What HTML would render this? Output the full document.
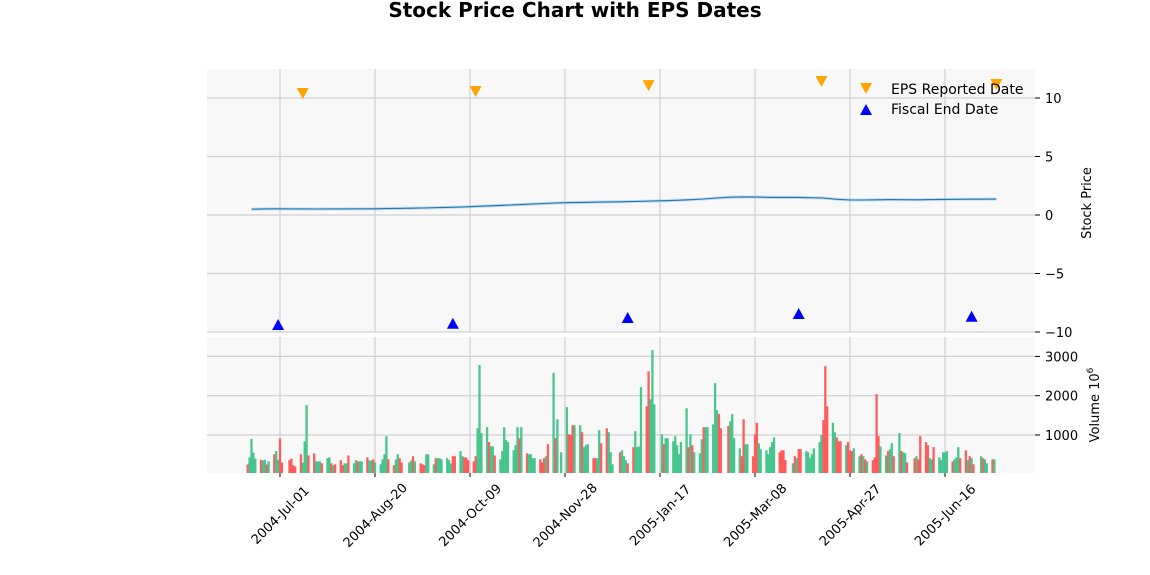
<!DOCTYPE html>
<html><head><meta charset="utf-8"><style>
html,body{margin:0;padding:0;background:#fff;}
svg{display:block;font-family:"DejaVu Sans","Liberation Sans",sans-serif;}
</style></head><body>
<svg id="chart" width="1150" height="575">
<text x="575" y="17" text-anchor="middle" font-size="20" font-weight="bold">Stock Price Chart with EPS Dates</text>
<rect x="207" y="69" width="828" height="263" fill="#f8f8f8"/>
<rect x="207" y="337" width="828" height="136" fill="#f8f8f8"/>
<g id="grid"></g><g id="vol"></g><g id="price"></g><g id="marks"></g><g id="axes"></g>
<g>
<polygon points="860,83 872,83 866,94" fill="orange"/>
<text x="891" y="94" font-size="14">EPS Reported Date</text>
<polygon points="860,115 872,115 866,104" fill="blue"/>
<text x="891" y="114" font-size="14">Fiscal End Date</text>
</g>
<text transform="translate(1091,203) rotate(-90)" text-anchor="middle" font-size="13">Stock Price</text>
<text transform="translate(1099,405) rotate(-90)" text-anchor="middle" font-size="13">Volume  10<tspan dy="-6" font-size="9">6</tspan></text>
</svg>
<script>
const startDate="2004-06-14";
const holidays=["2004-07-05","2004-09-06","2004-11-25","2004-12-24","2005-01-17","2005-02-21","2005-03-25","2005-05-30","2005-07-04"];
const volumes=[250,430,900,550,400, 370,350,370,250,330, 510,590,370,910,300, 360,400,230,200,
510,300,840,1760,480, 535,330,330,330,280, 410,430,280,230,255, 360,230,280,280,480, 280,360,330,330,330,
430,350,350,380,300, 255,380,510,970,380, 230,380,510,410,300, 300,350,460,330, 280,255,230,510,510,
255,410,410,410,380, 410,360,280,460,460, 590,460,430,430,360, 330,460,1170,2780,1050, 1200,820,710,710,480,
380,590,1200,870,820, 610,740,1200,920,1200, 535,510,510,410,410, 380,300,410,460,765, 2580,920,1400,560,
1710,1020,1000,1250,1250, 1250,1070,690,740,765, 410,410,410,1120,790, 1170,1070,560,255, 560,610,460,360,280,
690,1100,690,710,2220, 1730,2620,1910,3160,1780, 1020,765,920,920, 840,970,740,510,820, 1680,690,1020,740,560,
535,890,1200,1200,1200, 1270,2320,1630,1530,1170, 1230,1350,1530,920, 660,460,1400,765,765, 460,1020,1310,790,640,
610,510,690,820,940, 560,610,610,360, 280,460,410,640,640, 590,560,410,510,660, 820,1000,1380,2750,1730,
1310,1070,940,840,840, 740,820,610,590,660, 460,510,460,380,330, 360,430,2040,970,710, 480,590,640,790,460,
1050,590,560,535,300, 410,460,380,970, 820,740,410,380,690, 430,360,560,560,590, 330,380,430,690,410,
610,360,460,410,255, 460,410,380,280, 380,380];
const directions="rgggg"+"rggrg"+"rggrr"+"rrrr"+"rgggr"+"rgggr"+"ggrgr"+"rrggr"+"ggrgg"+"rggrg"+"ggggr"+"rggrr"+"ggrg"+"rrrgg"+
"grggg"+"gggrr"+"ggrrr"+"rrggg"+"grggr"+"ggggg"+"gggrg"+"rgggg"+"rrrgr"+"grgg"+"grrrg"+"grggg"+"rrggr"+"rggg"+"rgggr"+
"rgggg"+"rrggg"+"grgg"+"ggggg"+"grgrg"+"ggrgg"+"gggrr"+"rggg"+"grrgg"+"rrrgg"+"ggggg"+"rrrr"+"grgrr"+"ggggg"+"ggrrr"+
"ggrrr"+"grrrg"+"grgrg"+"rrrrg"+"grggr"+"grggr"+"rgrr"+"rrggr"+"ggggg"+"rgggr"+"rgrgr"+"grgg"+"rg";
const weeklyPrice=[0.50,0.52,0.53,0.52,0.52,0.51,0.52,0.52,0.53,0.53,0.55,0.56,0.58,0.60,0.63,0.66,0.69,
0.74,0.79,0.83,0.88,0.93,0.98,1.03,1.06,1.08,1.10,1.12,1.14,1.16,1.19,1.22,1.26,1.31,1.37,1.45,1.52,1.55,1.53,1.50,
1.50,1.50,1.48,1.45,1.34,1.28,1.28,1.30,1.32,1.31,1.30,1.32,1.33,1.34,1.35,1.35,1.36];
const epsDates=["2004-07-13","2004-10-12","2005-01-11","2005-04-12","2005-07-13"];
const epsValues=[10.43,10.6,11.1,11.45,11.2];
const fiscalDates=["2004-06-30","2004-09-30","2004-12-31","2005-03-31","2005-06-30"];
const fiscalValues=[-9.4,-9.3,-8.8,-8.46,-8.7];
const xTickLabels=["2004-Jul-01","2004-Aug-20","2004-Oct-09","2004-Nov-28","2005-Jan-17","2005-Mar-08","2005-Apr-27","2005-Jun-16"];
const xTickDates=["2004-07-01","2004-08-20","2004-10-09","2004-11-28","2005-01-17","2005-03-08","2005-04-27","2005-06-16"];
const priceTicks=[10,5,0,-5,-10];
const volTicks=[1000,2000,3000];

const NS="http://www.w3.org/2000/svg";
const DAY=86400000, ORIGIN=Date.UTC(2004,6,1);
function dnum(s){const p=s.split("-");return (Date.UTC(+p[0],+p[1]-1,+p[2])-ORIGIN)/DAY;}
function xS(d){return 280+d*1.9;}
function yP(v){return 215-v*11.7;}
function yV(v){return 474.3-v*0.0393;}
function mk(tag,attrs,parent){const e=document.createElementNS(NS,tag);for(const k in attrs)e.setAttribute(k,attrs[k]);document.getElementById(parent).appendChild(e);return e;}

const tdays=[];
{let d=dnum(startDate);while(tdays.length<volumes.length){const dt=new Date(ORIGIN+d*DAY);const wd=dt.getUTCDay();const iso=dt.toISOString().slice(0,10);if(wd>0&&wd<6&&holidays.indexOf(iso)<0)tdays.push(d);d++;}}

xTickDates.forEach((s,i)=>{const x=xS(dnum(s));
 let g=mk("line",{x1:x,x2:x,y1:69,y2:332,stroke:"#d0d0d0","stroke-width":1.2},"grid");
 
 
 g=mk("line",{x1:x,x2:x,y1:337,y2:473,stroke:"#d0d0d0","stroke-width":1.2},"grid");
 
 
 const t=mk("line",{x1:x,x2:x,y1:473,y2:477,stroke:"#000","stroke-width":1},"axes");
 
 
 const l=mk("text",{transform:`translate(${x},${515}) rotate(-45)`,"text-anchor":"middle","dy":"0.35em","font-size":13},"axes");
 l.textContent=xTickLabels[i];
 
 
});
priceTicks.forEach(v=>{const y=yP(v);
 const g=mk("line",{x1:207,x2:1035,y1:y,y2:y,stroke:"#d0d0d0","stroke-width":1.2},"grid");
 
 
 const t=mk("line",{x1:1035,x2:1040,y1:y,y2:y,stroke:"#000"},"axes");
 
 
 const l=mk("text",{x:1045,y:y+5,"font-size":13},"axes");
 l.textContent=(v<0?"\u2212"+(-v):String(v));
 
 
});
volTicks.forEach(v=>{const y=yV(v);
 const g=mk("line",{x1:207,x2:1035,y1:y,y2:y,stroke:"#d0d0d0","stroke-width":1.2},"grid");
 
 
 const t=mk("line",{x1:1035,x2:1040,y1:y,y2:y,stroke:"#000"},"axes");
 
 
 const l=mk("text",{x:1045,y:y+5,"font-size":13},"axes");
 l.textContent=String(v);
 
 
});

volumes.forEach((v,i)=>{const x=xS(tdays[i]);const up=directions[i]!=="r";
 const b=mk("rect",{x:x-1.15,y:yV(v),width:2.3,height:474.3-yV(v)-1.3,fill:up?"#3fc38a":"#ff5555","fill-opacity":0.95},"vol");
 
 
});

{const pts=[];const w0=dnum(startDate);
 weeklyPrice.forEach((p,i)=>{pts.push(xS(w0+i*7+2).toFixed(1)+","+yP(p).toFixed(1));});
 const band=mk("polyline",{points:pts.join(" "),fill:"none",stroke:"#9cc8e6","stroke-width":3,"stroke-opacity":0.6},"price");
 
 
 const ln=mk("polyline",{points:pts.join(" "),fill:"none",stroke:"#1f77b4","stroke-width":1.1},"price");
 
 
}

epsDates.forEach((s,i)=>{const x=xS(dnum(s)),y=yP(epsValues[i]);
 const m=mk("polygon",{points:`${x-6},${y-5} ${x+6},${y-5} ${x},${y+6}`,fill:"orange"},"marks");
 
 
});
fiscalDates.forEach((s,i)=>{const x=xS(dnum(s)),y=yP(fiscalValues[i]);
 const m=mk("polygon",{points:`${x-6},${y+5} ${x+6},${y+5} ${x},${y-6}`,fill:"blue"},"marks");
 
 
});
</script>
</body></html>
